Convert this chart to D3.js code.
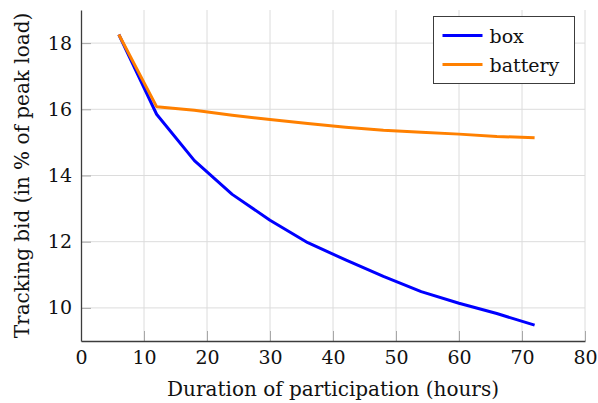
<!DOCTYPE html>
<html lang="en">
<head>
<meta charset="UTF-8">
<title>Tracking bid vs duration</title>
<style>
body { margin: 0; background: #fff; }
svg text { font-family: "DejaVu Serif", serif !important; font-size: 19px !important; fill: #111; }
svg text.lbl { font-size: 20px !important; }
.grid line { stroke: #dcdcdc; stroke-width: 1; }
.axis path { stroke: #3c3c3c; stroke-width: 1.3; fill: none; }
.axis line { stroke: #a8a8a8; }
</style>
</head>
<body>
<svg id="chart"></svg>
<script src="https://cdn.jsdelivr.net/npm/d3@7"></script>
<script>
// hours of participation
const hours = [6, 12, 18, 24, 30, 36, 42, 48, 54, 60, 66, 72];
// tracking bid, % of peak load
const boxBid = [18.26, 15.85, 14.45, 13.43, 12.65, 11.97, 11.45, 10.95, 10.49, 10.14, 9.83, 9.48];
const batteryBid = [18.26, 16.08, 15.97, 15.82, 15.69, 15.57, 15.46, 15.37, 15.31, 15.25, 15.18, 15.14];
const seriesNames = ["box", "battery"];
const seriesColors = ["#0000ff", "#ff8000"];
const xTicks = [0, 10, 20, 30, 40, 50, 60, 70, 80];
const yTicks = [10, 12, 14, 16, 18];

const width = 598, height = 403;
const margin = {top: 10, right: 13, bottom: 62, left: 81};

const svg = d3.select("#chart")
  .attr("width", width)
  .attr("height", height);

const x = d3.scaleLinear().domain([0, 80]).range([margin.left, width - margin.right]);
const y = d3.scaleLinear().domain([9, 19]).range([height - margin.bottom, margin.top]);

// grid
svg.append("g").attr("class", "grid")
  .selectAll("line").data(xTicks.slice(1)).enter().append("line")
  .attr("x1", d => x(d)).attr("x2", d => x(d))
  .attr("y1", y(9)).attr("y2", y(19));
svg.append("g").attr("class", "grid")
  .selectAll("line").data(yTicks).enter().append("line")
  .attr("x1", x(0)).attr("x2", x(80))
  .attr("y1", d => y(d)).attr("y2", d => y(d));

// axes, ticks pointing inward
const xAxis = d3.axisBottom(x).tickValues(xTicks).tickSizeInner(-10).tickSizeOuter(0).tickPadding(10);
const yAxis = d3.axisLeft(y).tickValues(yTicks).tickSizeInner(-10).tickSizeOuter(0).tickPadding(9);

svg.append("g").attr("class", "axis")
  .attr("transform", "translate(0," + y(9) + ")")
  .call(xAxis);
svg.append("g").attr("class", "axis")
  .attr("transform", "translate(" + x(0) + ",0)")
  .call(yAxis);
svg.selectAll(".axis path").raise();

// lines
const line = d3.line()
  .x((d, i) => x(hours[i]))
  .y(d => y(d));

[boxBid, batteryBid].forEach((vals, k) => {
  svg.append("path")
    .datum(vals)
    .attr("fill", "none")
    .attr("stroke", seriesColors[k])
    .attr("stroke-width", 3)
    .attr("stroke-linejoin", "round")
    .attr("d", line);
});

// axis labels
svg.append("text")
  .attr("class", "lbl")
  .attr("x", (x(0) + x(80)) / 2)
  .attr("y", 396)
  .attr("text-anchor", "middle")
  .text("Duration of participation (hours)");

svg.append("text")
  .attr("class", "lbl")
  .attr("transform", "translate(29," + ((y(9) + y(19)) / 2) + ") rotate(-90)")
  .attr("text-anchor", "middle")
  .text("Tracking bid (in % of peak load)");

// legend
const legend = svg.append("g").attr("transform", "translate(433.5,16.5)");
legend.append("rect")
  .attr("width", 141).attr("height", 67)
  .attr("fill", "#fff").attr("stroke", "#3c3c3c").attr("stroke-width", 1);
seriesNames.forEach((name, k) => {
  const ly = 19 + k * 29;
  legend.append("line")
    .attr("x1", 9).attr("x2", 49)
    .attr("y1", ly).attr("y2", ly)
    .attr("stroke", seriesColors[k]).attr("stroke-width", 3);
  legend.append("text")
    .attr("x", 56).attr("y", ly + 7)
    .text(name);
});
</script>
</body>
</html>
